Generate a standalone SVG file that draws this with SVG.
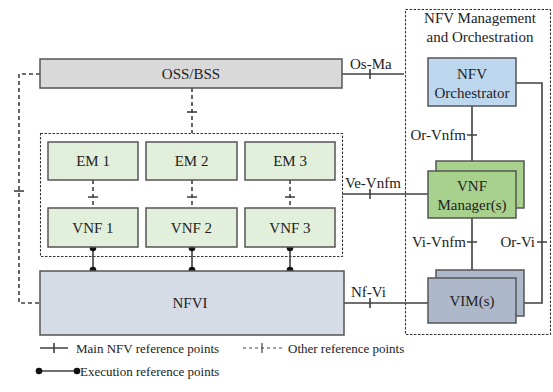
<svg xmlns="http://www.w3.org/2000/svg" width="553" height="392" viewBox="0 0 553 392">
<defs>
<marker id="dot" markerWidth="8" markerHeight="8" refX="4" refY="4" markerUnits="userSpaceOnUse">
<circle cx="4" cy="4" r="3.3" fill="#111"/>
</marker>
</defs>
<rect width="553" height="392" fill="#fff"/>

<g id="mano-group">
<rect x="405.5" y="9.5" width="145" height="325" fill="none" stroke="#333" stroke-width="1.1" stroke-dasharray="2.5 1.5"/>
<text font-family="Liberation Serif" font-size="15" fill="#222" text-anchor="middle" x="480" y="23">NFV Management</text>
<text font-family="Liberation Serif" font-size="15" fill="#222" text-anchor="middle" x="480" y="42">and Orchestration</text>
</g>
<g id="vnf-group">
<rect x="40.5" y="133.5" width="302" height="123" fill="none" stroke="#333" stroke-width="1.1" stroke-dasharray="2.5 1.5"/>
</g>

<g id="connectors" stroke="#404040" stroke-width="1.6" fill="none">
<path d="M342 74H404M370 69V79"/>
<path d="M342 194H428M370 189V199"/>
<path d="M344 303H428M370 298V308"/>
<path d="M472 106V171M467 135H477"/>
<path d="M472 218V278M467 242H477"/>
<path d="M516 83H542V303H516M537 242H547"/>
<path d="M192 88V133" stroke-dasharray="4 3"/>
<path d="M187 112H197"/>
<path d="M40 74H19V303H40" stroke-dasharray="4 3"/>
<path d="M14 191H24"/>
<path d="M93 180V208M192 180V208M290 180V208" stroke-dasharray="4 3"/>
<path d="M88 197H98M187 197H197M285 197H295"/>
<path d="M93 248V270" marker-start="url(#dot)" marker-end="url(#dot)"/>
<path d="M192 248V270" marker-start="url(#dot)" marker-end="url(#dot)"/>
<path d="M290 248V270" marker-start="url(#dot)" marker-end="url(#dot)"/>
</g>
<g id="connector-labels">
<text font-family="Liberation Serif" font-size="15" fill="#222" x="350" y="69">Os-Ma</text>
<text font-family="Liberation Serif" font-size="15" fill="#222" x="345" y="188">Ve-Vnfm</text>
<text font-family="Liberation Serif" font-size="15" fill="#222" x="351" y="297">Nf-Vi</text>
<text font-family="Liberation Serif" font-size="15" fill="#222" text-anchor="end" x="466" y="140">Or-Vnfm</text>
<text font-family="Liberation Serif" font-size="15" fill="#222" text-anchor="end" x="466" y="247">Vi-Vnfm</text>
<text font-family="Liberation Serif" font-size="15" fill="#222" text-anchor="end" x="535" y="247">Or-Vi</text>
</g>

<g id="oss">
<rect x="40" y="59" width="302" height="29" fill="#d9d9d9" stroke="#555" stroke-width="1.5"/>
<text font-family="Liberation Serif" font-size="15" fill="#222" text-anchor="middle" x="191" y="79">OSS/BSS</text>
</g>
<g id="em1"><rect x="48" y="142" width="90" height="38" fill="#e2efda" stroke="#555" stroke-width="1.5"/><text font-family="Liberation Serif" font-size="15" fill="#222" text-anchor="middle" x="93" y="166">EM 1</text></g>
<g id="em2"><rect x="146" y="142" width="91" height="38" fill="#e2efda" stroke="#555" stroke-width="1.5"/><text font-family="Liberation Serif" font-size="15" fill="#222" text-anchor="middle" x="191.5" y="166">EM 2</text></g>
<g id="em3"><rect x="245" y="142" width="90" height="38" fill="#e2efda" stroke="#555" stroke-width="1.5"/><text font-family="Liberation Serif" font-size="15" fill="#222" text-anchor="middle" x="290" y="166">EM 3</text></g>
<g id="vnf1"><rect x="48" y="208" width="90" height="39" fill="#e2efda" stroke="#555" stroke-width="1.5"/><text font-family="Liberation Serif" font-size="15" fill="#222" text-anchor="middle" x="93" y="233">VNF 1</text></g>
<g id="vnf2"><rect x="146" y="208" width="91" height="39" fill="#e2efda" stroke="#555" stroke-width="1.5"/><text font-family="Liberation Serif" font-size="15" fill="#222" text-anchor="middle" x="191.5" y="233">VNF 2</text></g>
<g id="vnf3"><rect x="245" y="208" width="90" height="39" fill="#e2efda" stroke="#555" stroke-width="1.5"/><text font-family="Liberation Serif" font-size="15" fill="#222" text-anchor="middle" x="290" y="233">VNF 3</text></g>
<g id="nfvi">
<rect x="40" y="271" width="304" height="64" fill="#d6dce5" stroke="#555" stroke-width="1.5"/>
<text font-family="Liberation Serif" font-size="15" fill="#222" text-anchor="middle" x="190" y="308">NFVI</text>
</g>
<g id="orchestrator">
<rect x="428" y="58" width="88" height="48" fill="#bdd7ee" stroke="#555" stroke-width="1.5"/>
<text font-family="Liberation Serif" font-size="15" fill="#222" text-anchor="middle" x="472" y="79">NFV</text>
<text font-family="Liberation Serif" font-size="15" fill="#222" text-anchor="middle" x="472" y="98">Orchestrator</text>
</g>
<g id="vnfm">
<rect x="436" y="161" width="88" height="47" fill="#a9d18e" stroke="#555" stroke-width="1.5"/>
<rect x="428" y="171" width="88" height="47" fill="#a9d18e" stroke="#555" stroke-width="1.5"/>
<text font-family="Liberation Serif" font-size="15" fill="#222" text-anchor="middle" x="472" y="191">VNF</text>
<text font-family="Liberation Serif" font-size="15" fill="#222" text-anchor="middle" x="472" y="210">Manager(s)</text>
</g>
<g id="vim">
<rect x="436" y="270" width="88" height="46" fill="#adb9ca" stroke="#555" stroke-width="1.5"/>
<rect x="428" y="278" width="88" height="45" fill="#adb9ca" stroke="#555" stroke-width="1.5"/>
<text font-family="Liberation Serif" font-size="15" fill="#222" text-anchor="middle" x="472" y="306">VIM(s)</text>
</g>

<g id="legend">
<path d="M40 348H68M54 343V353" stroke="#404040" stroke-width="1.6" fill="none"/>
<text font-family="Liberation Serif" font-size="13" fill="#222" x="76" y="353">Main NFV reference points</text>
<path d="M243 348H282" stroke="#404040" stroke-dasharray="3 3" stroke-width="1.2" fill="none"/>
<path d="M262 343V353" stroke="#404040" stroke-width="1.2" fill="none"/>
<text font-family="Liberation Serif" font-size="13" fill="#222" x="288" y="353">Other reference points</text>
<path d="M39 371H77" stroke="#404040" stroke-width="1.6" fill="none" marker-start="url(#dot)" marker-end="url(#dot)"/>
<text font-family="Liberation Serif" font-size="13" fill="#222" x="80" y="376">Execution reference points</text>
</g>
</svg>
